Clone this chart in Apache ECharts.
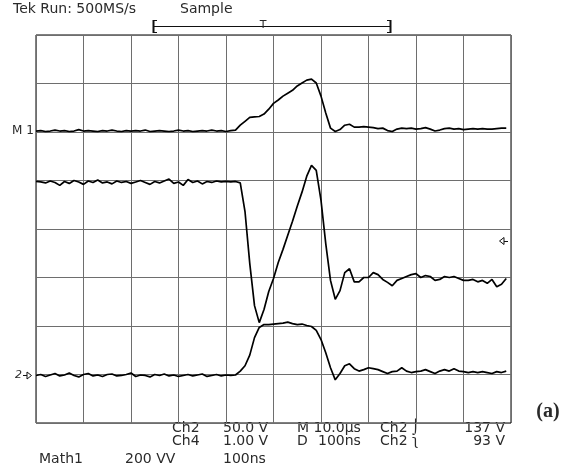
<!DOCTYPE html>
<html>
<head>
<meta charset="utf-8">
<script src="https://cdn.jsdelivr.net/npm/echarts@6/dist/echarts.min.js"></script>
<style>
html,body{margin:0;padding:0;background:#fff;}
#chart{width:570px;height:471px;}
</style>
</head>
<body>
<div id="chart"></div>
<script>
// sample times (ns), 100 ns per division
var timeNs = [0,10,20,30,40,50,60,70,80,90,100,110,120,130,140,150,160,170,180,190,
  200,210,220,230,240,250,260,270,280,290,300,310,320,330,340,350,360,370,380,390,
  400,410,420,430,440,450,460,470,480,490,500,510,520,530,540,550,560,570,580,590,
  600,610,620,630,640,650,660,670,680,690,700,710,720,730,740,750,760,770,780,790,
  800,810,820,830,840,850,860,870,880,890,900,910,920,930,940,950,960,970,980,990];

// trace values in screen divisions (0 = centre line)
var traceM1 = [2.02,2.03,2.01,2.02,2.04,2.02,2.03,2.01,2.02,2.05,2.02,2.03,2.02,2.01,2.03,2.02,2.04,2.02,2.01,2.03,
  2.02,2.03,2.02,2.04,2.01,2.02,2.03,2.02,2.01,2.02,2.04,2.02,2.03,2.01,2.02,2.03,2.02,2.04,2.02,2.03,2.01,2.03,
  2.04,2.14,2.22,2.30,2.31,2.32,2.37,2.47,2.59,2.66,2.74,2.80,2.86,2.95,3.01,3.07,3.09,3.01,2.74,2.39,2.08,2.01,2.05,2.14,2.16,2.10,2.10,2.11,2.10,
  2.09,2.07,2.08,2.03,2.01,2.06,2.08,2.07,2.08,2.06,2.07,2.09,2.06,2.02,2.04,2.07,2.08,2.06,2.07,2.05,2.06,2.07,2.06,2.07,2.06,2.06,2.07,2.08,2.08];

var traceCh2 = [0.98,0.97,0.95,0.99,0.96,0.90,0.98,0.94,1.00,0.97,0.92,0.99,0.96,1.01,0.95,0.97,0.93,0.99,0.96,0.98,
  0.94,0.97,1.00,0.96,0.92,0.98,0.95,0.99,1.03,0.94,0.97,0.90,1.02,0.96,0.99,0.93,0.98,0.96,0.99,0.97,0.98,0.97,0.98,
  0.95,0.36,-0.71,-1.58,-1.93,-1.66,-1.29,-1.02,-0.69,-0.42,-0.13,0.16,0.47,0.76,1.09,1.31,1.21,0.59,-0.30,-1.06,-1.45,-1.27,-0.90,-0.82,
  -1.09,-1.09,-1.00,-1.00,-0.90,-0.94,-1.04,-1.10,-1.17,-1.06,-1.02,-0.98,-0.94,-0.92,-1.00,-0.96,-0.98,-1.06,-1.04,-0.98,-1.00,-0.98,
  -1.02,-1.06,-1.06,-1.04,-1.09,-1.06,-1.12,-1.04,-1.19,-1.14,-1.02];

var traceCh4 = [-3.02,-3.00,-3.04,-3.01,-2.98,-3.03,-3.01,-2.97,-3.02,-3.05,-3.00,-2.98,-3.03,-3.01,-3.04,-3.00,-2.99,-3.03,-3.02,-3.00,
  -2.97,-3.04,-3.01,-3.02,-3.05,-3.00,-3.02,-2.99,-3.03,-3.01,-3.04,-3.02,-3.00,-3.03,-3.01,-2.99,-3.04,-3.02,-3.00,-3.03,-3.01,-3.02,
  -3.01,-2.93,-2.82,-2.60,-2.24,-2.03,-1.97,-1.97,-1.96,-1.95,-1.94,-1.92,-1.95,-1.97,-1.96,-1.99,-2.01,-2.09,-2.28,-2.55,
  -2.86,-3.11,-2.98,-2.82,-2.78,-2.88,-2.93,-2.90,-2.86,-2.88,-2.90,-2.94,-2.98,-2.94,-2.93,-2.86,-2.93,-2.96,-2.94,-2.93,
  -2.90,-2.94,-2.98,-2.93,-2.90,-2.93,-2.88,-2.93,-2.94,-2.96,-2.94,-2.96,-2.94,-2.96,-2.98,-2.94,-2.96,-2.93];

var headerText = ['Tek Run: 500MS/s', 'Sample'];
var row1 = ['Ch2', '50.0 V', 'M 10.0\u03bcs', 'Ch2 \u2321', '137 V'];
var row2 = ['Ch4', '1.00 V', 'D', '100ns', 'Ch2 \u0285', '93 V'];
var row3 = ['Math1', '200 VV', '100ns'];
var figLabel = '(a)';

function pairs(vals){ return vals.map(function(v,i){ return [timeNs[i], v]; }); }

var chart = echarts.init(document.getElementById('chart'), null, {renderer:'canvas'});
var FONT = '14px "DejaVu Sans"';
var TXT = '#2a2a2a';
function txt(s, x, y, align, font){
  return {type:'text', silent:true, style:{text:s, x:x, y:y, fill:TXT, font:font||FONT,
    align:align||'left', textAlign:align||'left', verticalAlign:'middle', textVerticalAlign:'middle'}};
}
function ln(x1,y1,x2,y2,w){
  return {type:'line', silent:true, shape:{x1:x1,y1:y1,x2:x2,y2:y2}, style:{stroke:'#111', lineWidth:w||1}};
}

var R1 = 428, R2 = 441, R3 = 459;
var graphics = [
  txt(headerText[0], 13, 9),
  txt(headerText[1], 180, 9),
  ln(153, 26.5, 391, 26.5, 1.2),
  ln(153.5, 20, 153.5, 33, 2), ln(153, 20.5, 157, 20.5), ln(153, 32.5, 157, 32.5),
  ln(390.5, 20, 390.5, 33, 2), ln(387, 20.5, 391, 20.5), ln(387, 32.5, 391, 32.5),
  txt('T', 263, 25, 'center', '11px "DejaVu Sans"'),
  txt('M 1', 12, 131, 'left', '12px "DejaVu Sans"'),
  txt('2', 15, 375, 'left', 'italic 11px "DejaVu Sans"'),
  ln(23, 375.5, 27, 375.5),
  {type:'polygon', silent:true, shape:{points:[[27,372],[27,379],[31.5,375.5]]}, style:{fill:'#fff', stroke:'#111', lineWidth:1}},
  {type:'polygon', silent:true, shape:{points:[[504,237.5],[504,244.5],[499.5,241]]}, style:{fill:'#fff', stroke:'#111', lineWidth:1}},
  ln(504, 241.5, 508, 241.5),
  // bottom readout
  txt(row1[0], 172, R1), txt(row1[1], 223, R1), txt(row1[2], 297, R1), txt(row1[3], 380, R1), txt(row1[4], 505, R1, 'right'),
  txt(row2[0], 172, R2), txt(row2[1], 223, R2), txt(row2[2], 297, R2), txt(row2[3], 318, R2), txt(row2[4], 380, R2), txt(row2[5], 505, R2, 'right'),
  txt(row3[0], 39, R3), txt(row3[1], 125, R3), txt(row3[2], 223, R3),
  txt(figLabel, 548, 412, 'center', 'bold 20px "Liberation Serif"')
];

function trace(name, vals){
  return {name:name, type:'line', data:pairs(vals), showSymbol:false, symbol:'none',
    lineStyle:{color:'#000', width:1.7}, animation:false, silent:true, z:5};
}

chart.setOption({
  animation:false,
  backgroundColor:'#fff',
  grid:{left:36, top:35, width:475, height:388, show:true, borderColor:'#000', borderWidth:1, backgroundColor:'transparent'},
  xAxis:{type:'value', min:0, max:1000, interval:100,
    axisLine:{show:false}, axisTick:{show:false}, axisLabel:{show:false},
    splitLine:{show:true, lineStyle:{color:'#6e6e6e', width:1}}},
  yAxis:{type:'value', min:-4, max:4, interval:1,
    axisLine:{show:false}, axisTick:{show:false}, axisLabel:{show:false},
    splitLine:{show:true, lineStyle:{color:'#6e6e6e', width:1}}},
  series:[trace('M1', traceM1), trace('Ch2', traceCh2), trace('Ch4', traceCh4)],
  graphic:graphics
});
</script>
</body>
</html>
